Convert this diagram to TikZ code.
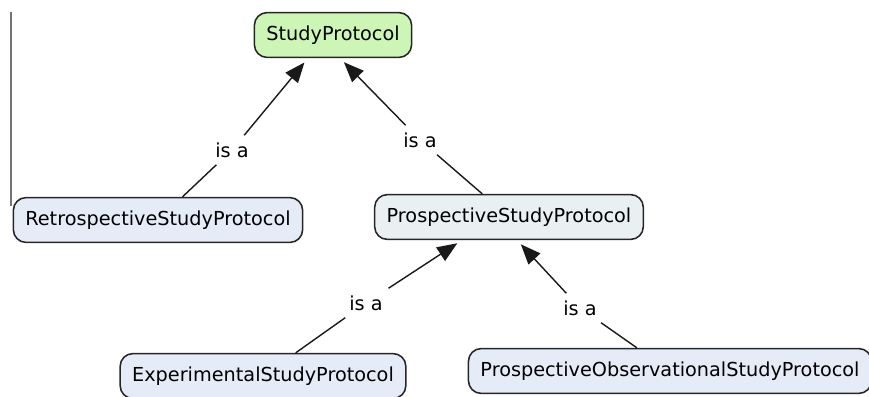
\documentclass[tikz,border=0pt]{standalone}
\usepackage{fontspec}
\setmainfont{DejaVu Sans}
\usetikzlibrary{positioning,arrows.meta}

\definecolor{rootgreen}{HTML}{CCF5B6}
\definecolor{conceptblue}{HTML}{E5ECF7}
\definecolor{conceptgrey}{HTML}{EAEFF1}

\begin{document}
\begin{tikzpicture}[on grid,
    concept node/.style={rectangle,rounded corners=9pt,draw=black!85,line width=1.1pt,fill=conceptblue,
        minimum height=1.12cm,inner xsep=0.3cm,font=\fontsize{13.7}{16}\selectfont},
    link label/.style={inner sep=5pt,font=\fontsize{13.7}{16}\selectfont},
    link/.style={line width=1pt,black!90},
    isa/.style={link,-{Triangle[length=0.5cm,width=0.4cm]},shorten >=4pt}]
    \useasboundingbox (0,0) rectangle (21.725,-9.925);
    \node[concept node,fill=rootgreen] (study) at (8.325,-0.875) {StudyProtocol};
    \node[concept node] (retro) [below left = 4.625cm and 4.375cm of study] {RetrospectiveStudyProtocol};
    \node[concept node,fill=conceptgrey] (prosp) [below right = 4.55cm and 4.4cm of study] {ProspectiveStudyProtocol};
    \node[concept node] (exp) [below left = 3.975cm and 6.15cm of prosp] {ExperimentalStudyProtocol};
    \node[concept node] (obs) [below right = 3.85cm and 4.025cm of prosp] {ProspectiveObservationalStudyProtocol};

    \node[link label] (isa1) [below left = 2.875cm and 2.525cm of study] {is a};
    \node[link label] (isa2) [below right = 2.625cm and 2.175cm of study] {is a};
    \node[link label] (isa3) [below left = 2.15cm and 3.575cm of prosp] {is a};
    \node[link label] (isa4) [below right = 2.275cm and 1.775cm of prosp] {is a};

    % frame edge on the left
    \coordinate (edgetop) at (0.275,-0.3);
    \coordinate (edgebot) at (0.275,-5.15);
    \draw[black!55,line width=0.8pt] (edgetop) -- (edgebot);

    \draw[link] (retro) -- (isa1);
    \draw[isa] (isa1) -- ([xshift=-0.625cm]study.south);
    \draw[link] (prosp) -- (isa2);
    \draw[isa] (isa2) -- ([xshift=0.175cm]study.south);
    \draw[link] (exp) -- (isa3);
    \draw[isa] (isa3) -- ([xshift=-1.175cm]prosp.south);
    \draw[link] (obs) -- (isa4);
    \draw[isa] (isa4) -- ([xshift=0.2cm]prosp.south);
\end{tikzpicture}
\end{document}
